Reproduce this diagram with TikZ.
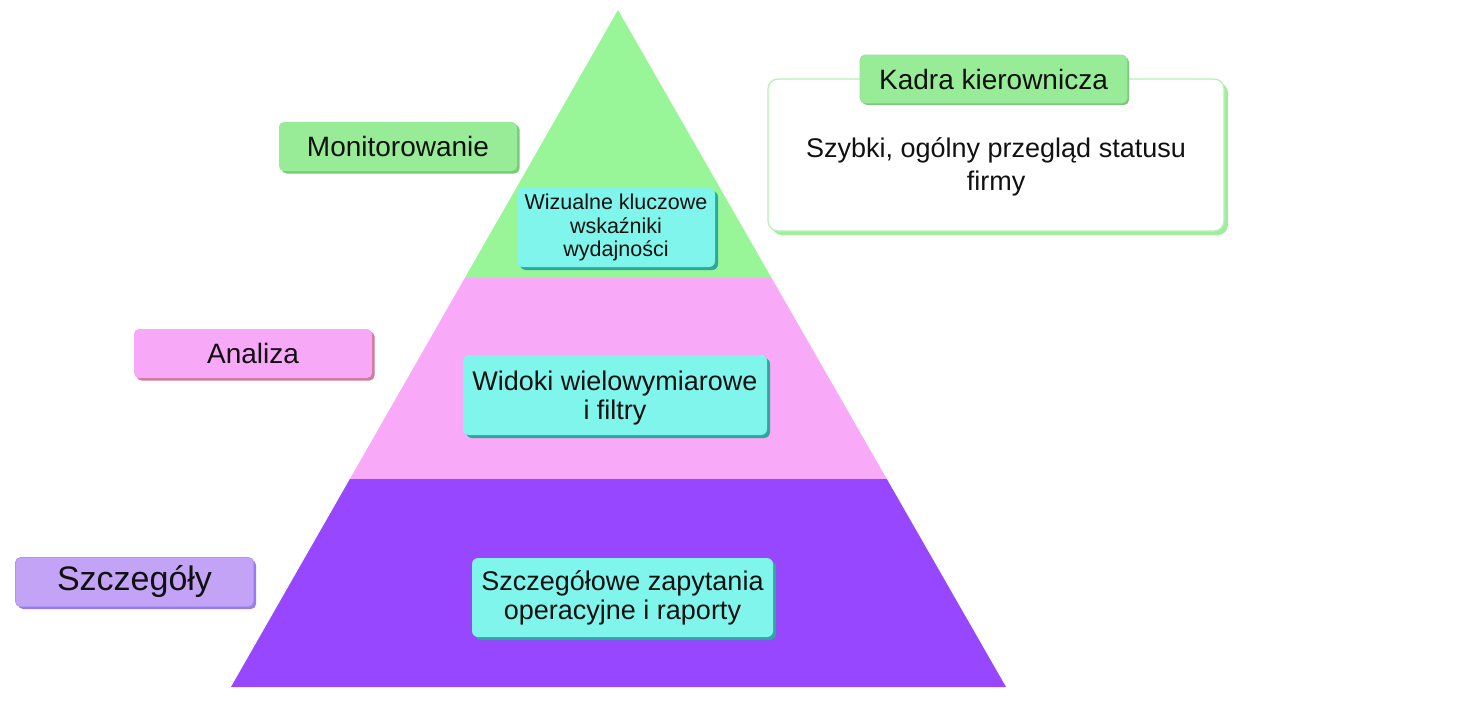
\documentclass[tikz,border=0pt]{standalone}
\usepackage{fontspec}
\setmainfont{Liberation Sans}
\usetikzlibrary{shadows,calc}
\definecolor{pgreen}{HTML}{98F598}
\definecolor{ppink}{HTML}{F8AAF8}
\definecolor{ppurple}{HTML}{9747FF}
\definecolor{lgreen}{HTML}{98EC98}
\definecolor{lgreensh}{HTML}{78CC78}
\definecolor{lpink}{HTML}{F7A8F7}
\definecolor{lpinksh}{HTML}{D27A9A}
\definecolor{lpurple}{HTML}{C3A3F5}
\definecolor{lpurplesh}{HTML}{9A7AF0}
\definecolor{cyanf}{HTML}{80F5EC}
\definecolor{cyansh}{HTML}{2CA89E}
\definecolor{descb}{HTML}{B5F0B5}
\definecolor{descsh}{HTML}{9EEE9E}
\definecolor{txt}{HTML}{111111}
\tikzset{
  lbl/.style={rounded corners=5pt, minimum width=238pt, minimum height=49pt, inner sep=0pt, text=txt, align=center},
  cyanbox/.style={rounded corners=6pt, fill=cyanf, inner sep=0pt, text=txt, align=center,
    general shadow={fill=cyansh, shadow xshift=3pt, shadow yshift=-3pt}},
}
\begin{document}
\begin{tikzpicture}[x=1pt,y=-1pt]
\useasboundingbox (0,0) rectangle (1472,704);
\fill[white] (0,0) rectangle (1472,704);
% pyramid
\coordinate (apex) at (618,10);
\coordinate (bl) at (231,687);
\coordinate (br) at (1006,687);
\coordinate (l1) at ($(apex)!0.3959!(bl)$);
\coordinate (r1) at ($(apex)!0.3959!(br)$);
\coordinate (l2) at ($(apex)!0.6928!(bl)$);
\coordinate (r2) at ($(apex)!0.6928!(br)$);
\fill[pgreen] (apex) -- (r1) -- (l1) -- cycle;
\fill[ppink] (l1) -- (r1) -- (r2) -- (l2) -- cycle;
\fill[ppurple] (l2) -- (r2) -- (br) -- (bl) -- cycle;
% left labels
\node[lbl, fill=lgreen, font=\fontsize{28}{32}\selectfont, general shadow={fill=lgreensh, shadow xshift=2.5pt, shadow yshift=-2.5pt}] (mon) at (398,146.5) {Monitorowanie};
\node[lbl, fill=lpink, font=\fontsize{28}{32}\selectfont, general shadow={fill=lpinksh, shadow xshift=2.5pt, shadow yshift=-2.5pt}] (ana) at (253,353.5) {Analiza};
\node[lbl, fill=lpurple, draw=lpurplesh!80, line width=0.8pt, font=\fontsize{34}{38}\selectfont, general shadow={fill=lpurplesh, shadow xshift=2.5pt, shadow yshift=-2.5pt}] (szc) at (134.5,582) {Szczegóły};
% cyan boxes
\node[cyanbox, minimum width=198pt, minimum height=79pt, font=\fontsize{21.5}{23.5}\selectfont] (kpi) at (616,227.5) {Wizualne kluczowe\\wskaźniki\\wydajności};
\node[cyanbox, minimum width=304pt, minimum height=80pt, font=\fontsize{27}{29}\selectfont] (wid) at (615,395) {\\[-3pt]Widoki wielowymiarowe\\i filtry};
\node[cyanbox, minimum width=301pt, minimum height=79pt, font=\fontsize{27}{29}\selectfont] (ops) at (622.5,597.5) {Szczegółowe zapytania\\operacyjne i raporty};
% description box
\node[rounded corners=10pt, draw=descb, line width=1.2pt, fill=white, minimum width=456pt, minimum height=152pt, inner sep=0pt,
  general shadow={fill=descsh, shadow xshift=4pt, shadow yshift=-4pt},
  label={[name=desctxt, yshift=-12pt, text=txt, align=center, font=\fontsize{27}{33}\selectfont]center:Szybki, ogólny przegląd statusu\\firmy}] (desc) at (996,155) {};
\node[lbl, fill=lgreen, draw=lgreensh!70, line width=0.8pt, minimum width=267pt, minimum height=48pt, font=\fontsize{28}{32}\selectfont,
  general shadow={fill=lgreensh, shadow xshift=2pt, shadow yshift=-2pt}] (kad) at (993.5,79) {Kadra kierownicza};
\end{tikzpicture}
\end{document}
